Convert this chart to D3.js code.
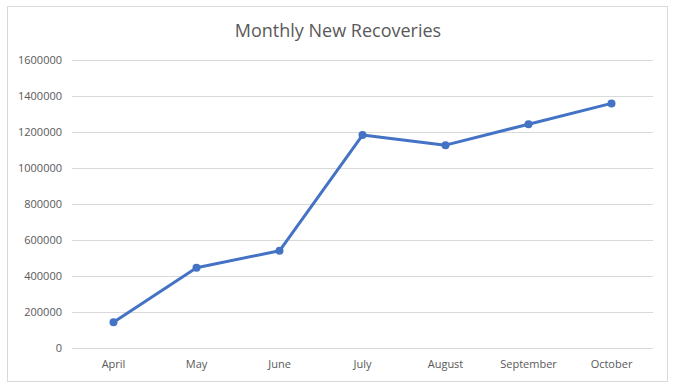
<!DOCTYPE html>
<html>
<head>
<meta charset="utf-8">
<script src="https://cdn.jsdelivr.net/npm/d3@7"></script>
<style>
    body { margin: 0; background: #fff; }
    text { font-family: "Open Sans", "Noto Sans", sans-serif; }
</style>
</head>
<body>
<div id="chart"></div>
<script>
var months = ["April", "May", "June", "July", "August", "September", "October"];
var recoveries = [143000, 446000, 540000, 1183000, 1127000, 1243000, 1359000];
var yTicks = [0, 200000, 400000, 600000, 800000, 1000000, 1200000, 1400000, 1600000];

var w = 673;
var h = 390;

var svg = d3.select("#chart")
    .append("svg")
    .attr("width", w)
    .attr("height", h);

// Chart area border
svg.append("rect")
    .attr("x", 7.5)
    .attr("y", 6.5)
    .attr("width", 660)
    .attr("height", 375)
    .attr("fill", "#fff")
    .attr("stroke", "#d9d9d9");

var xScale = d3.scaleBand()
    .domain(months)
    .range([72, 653]);

var yScale = d3.scaleLinear()
    .domain([0, 1600000])
    .range([348, 60]);

// Gridlines
svg.append("g")
    .selectAll("line")
    .data(yTicks)
    .enter()
    .append("line")
    .attr("x1", 72)
    .attr("x2", 653)
    .attr("y1", d => Math.round(yScale(d)) + 0.5)
    .attr("y2", d => Math.round(yScale(d)) + 0.5)
    .attr("stroke", "#d9d9d9")
    .attr("stroke-width", 1);

// Y axis labels
var yAxis = d3.axisLeft(yScale)
    .tickValues(yTicks)
    .tickFormat(d3.format("d"))
    .tickSize(0)
    .tickPadding(10);

svg.append("g")
    .attr("transform", "translate(72, 0)")
    .call(yAxis)
    .call(g => g.select(".domain").remove())
    .selectAll("text")
    .attr("fill", "#595959")
    .style("font-size", "11px");

// X axis labels
var xAxis = d3.axisBottom(xScale)
    .tickSize(0)
    .tickPadding(12);

svg.append("g")
    .attr("transform", "translate(0, 348)")
    .call(xAxis)
    .call(g => g.select(".domain").remove())
    .selectAll("text")
    .attr("fill", "#595959")
    .style("font-size", "11px");

// Line
var line = d3.line()
    .x(d => xScale(d.month) + xScale.bandwidth() / 2)
    .y(d => yScale(d.value));

var data = months.map((m, i) => ({ month: m, value: recoveries[i] }));

svg.append("path")
    .datum(data)
    .attr("d", line)
    .attr("fill", "none")
    .attr("stroke", "#4472c4")
    .attr("stroke-width", 3)
    .attr("stroke-linejoin", "round")
    .attr("stroke-linecap", "round");

svg.selectAll("circle")
    .data(data)
    .enter()
    .append("circle")
    .attr("cx", d => xScale(d.month) + xScale.bandwidth() / 2)
    .attr("cy", d => yScale(d.value))
    .attr("r", 4)
    .attr("fill", "#4472c4");

// Title
svg.append("text")
    .attr("x", 338)
    .attr("y", 37)
    .attr("text-anchor", "middle")
    .attr("fill", "#595959")
    .style("font-size", "18px")
    .text("Monthly New Recoveries");
</script>
</body>
</html>
